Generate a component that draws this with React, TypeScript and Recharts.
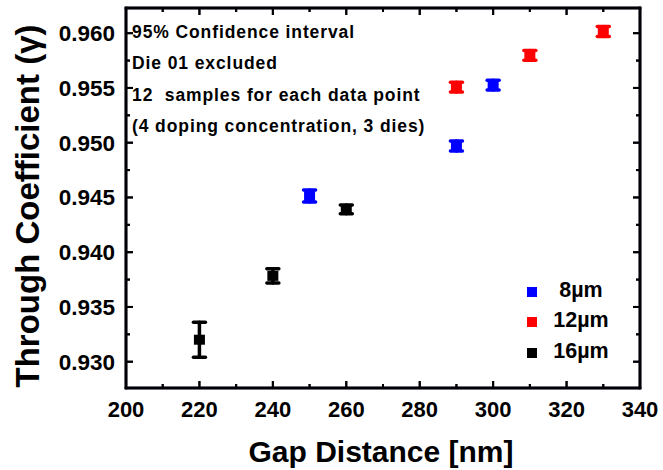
import React from 'react';
import { ComposedChart, Scatter, XAxis, YAxis, ErrorBar, Legend } from 'recharts';

// gap distance [nm] / through coefficient / 95% CI half-width, per ring width
const gap8 = [250, 290, 300];
const coef8 = [0.94514, 0.9497, 0.95526];
const err8 = [0.00055, 0.00045, 0.00045];

const gap12 = [290, 310, 330];
const coef12 = [0.95508, 0.95797, 0.96015];
const err12 = [0.00045, 0.00045, 0.00045];

const gap16 = [220, 240, 260];
const coef16 = [0.93201, 0.93784, 0.94391];
const err16 = [0.0016, 0.00065, 0.0004];

// labelled ticks plus the unlabelled minor ticks in between
const xTicks = [200, 210, 220, 230, 240, 250, 260, 270, 280, 290, 300, 310, 320, 330, 340];
const xLabelled = [200, 220, 240, 260, 280, 300, 320, 340];
const yTicks = [0.93, 0.9325, 0.935, 0.9375, 0.94, 0.9425, 0.945, 0.9475, 0.95, 0.9525, 0.955, 0.9575, 0.96];
const yLabelled = [0.93, 0.935, 0.94, 0.945, 0.95, 0.955, 0.96];

const notes = [
  '95% Confidence interval',
  'Die 01 excluded',
  '12  samples for each data point',
  '(4 doping concentration, 3 dies)',
];

const FONT = '"Liberation Sans", Arial, Helvetica, sans-serif';
// box and tick ink: a very dark navy underneath, plain black on top
const INKS = ['#0c0c30', '#000000'];

const series = [
  { name: '8\u00b5m', color: '#0000ff', gap: gap8, coef: coef8, err: err8 },
  { name: '12\u00b5m', color: '#ff0000', gap: gap12, coef: coef12, err: err12 },
  { name: '16\u00b5m', color: '#000000', gap: gap16, coef: coef16, err: err16 },
].map((s) => ({
  ...s,
  data: s.gap.map((g, i) => ({ gap: g, coef: s.coef[i], err: s.err[i] })),
}));

const W = 663;
const H = 470;
const MARGIN = { top: 8, right: 23, left: 0, bottom: 0 };
const PLOT_TOP = MARGIN.top;
const PLOT_RIGHT = W - MARGIN.right;
const X_MARGIN = 13;
const Y_MARGIN = 11;
const FRAME = 2.5;
const MAJOR = 7;
const MINOR = 4;

const xDomain = [200, 340];
const yDomain = [0.9276, 0.9623];
const frameLine = { stroke: INKS[0], strokeWidth: FRAME };

const Square = (props: any) => {
  const { cx, cy, fill } = props;
  return <rect x={cx - 5.5} y={cy - 5} width={11} height={10} fill={fill} />;
};

const Bar2 = (p: { x: number; y: number; w: number; h: number }) => (
  <>
    {INKS.map((c) => (
      <rect key={c} x={p.x} y={p.y} width={p.w} height={p.h} fill={c} />
    ))}
  </>
);

// bottom axis tick: label plus inward tick marks at the bottom and top of the box;
// the first tick also outlines the box
const BottomTick = (props: any) => {
  const { x, y, payload, index } = props;
  const v = payload.value;
  const labelled = xLabelled.includes(v);
  const len = labelled ? MAJOR : MINOR;
  const axisY = y - X_MARGIN;
  const boxW = PLOT_RIGHT - x;
  const boxH = axisY - PLOT_TOP;
  return (
    <g>
      {index === 0 && (
        <g>
          <Bar2 x={x - FRAME / 2} y={PLOT_TOP - FRAME / 2} w={boxW + FRAME} h={FRAME} />
          <Bar2 x={x - FRAME / 2} y={axisY - FRAME / 2} w={boxW + FRAME} h={FRAME} />
          <Bar2 x={x - FRAME / 2} y={PLOT_TOP - FRAME / 2} w={FRAME} h={boxH + FRAME} />
          <Bar2 x={PLOT_RIGHT - FRAME / 2} y={PLOT_TOP - FRAME / 2} w={FRAME} h={boxH + FRAME} />
        </g>
      )}
      <Bar2 x={x - 1} y={axisY - len} w={2} h={len} />
      <Bar2 x={x - 1} y={PLOT_TOP} w={2} h={len} />
      {labelled && (
        <text x={x} y={y} dy="0.71em" textAnchor="middle" fill="#000" fontSize={22} fontWeight="bold" fontFamily={FONT}>
          {v}
        </text>
      )}
    </g>
  );
};

// left axis tick: label plus inward tick marks at the left and right of the box
const LeftTick = (props: any) => {
  const { x, y, payload } = props;
  const v = payload.value;
  const labelled = yLabelled.some((t) => Math.abs(t - v) < 1e-9);
  const len = labelled ? MAJOR : MINOR;
  return (
    <g>
      <Bar2 x={x + Y_MARGIN} y={y - 1} w={len} h={2} />
      <Bar2 x={PLOT_RIGHT - len} y={y - 1} w={len} h={2} />
      {labelled && (
        <text x={x} y={y} dy="0.355em" textAnchor="end" fill="#000" fontSize={22.5} fontWeight="bold" fontFamily={FONT}>
          {v.toFixed(3)}
        </text>
      )}
    </g>
  );
};

const XTitle = (props: any) => {
  const { viewBox } = props;
  return (
    <text x={viewBox.x + viewBox.width / 2 - 2} y={viewBox.y + 74} textAnchor="middle" fill="#000"
      fontSize={30} fontWeight="bold" fontFamily={FONT}>
      Gap Distance [nm]
    </text>
  );
};

// y title plus the notes block in the top left corner of the plot
const YTitle = (props: any) => {
  const { viewBox } = props;
  const cx = viewBox.x + 39;
  const cy = viewBox.y + viewBox.height / 2 + 8;
  return (
    <g fill="#000" fontWeight="bold" fontFamily={FONT}>
      <text transform={`translate(${cx},${cy}) rotate(-90)`} textAnchor="middle" fontSize={33}>
        Through Coefficient (γ)
      </text>
      {notes.map((t, i) => (
        <text key={t} x={viewBox.x + viewBox.width + 6} y={viewBox.y + 30 + i * 31.3} fontSize={17.5}
          letterSpacing={0.9} style={{ whiteSpace: 'pre' }}>
          {t}
        </text>
      ))}
    </g>
  );
};

const LegendBox = () => (
  <div style={{ position: 'relative', width: 110, height: 95, fontFamily: FONT, fontWeight: 'bold' }}>
    {series.map((s, i) => (
      <React.Fragment key={s.name}>
        <div style={{ position: 'absolute', left: 7, top: 6.5 + i * 30.5, width: 10, height: 10, background: s.color }} />
        <div style={{ position: 'absolute', left: 21, width: 80, top: -1.5 + i * 30.5, textAlign: 'center',
          fontSize: 21.5, lineHeight: '22px', color: '#000', whiteSpace: 'nowrap' }}>
          {s.name}
        </div>
      </React.Fragment>
    ))}
  </div>
);

export default function App() {
  return (
    <div style={{ position: 'absolute', left: 0, top: 0, width: W, height: H, background: '#fff' }}>
      <ComposedChart width={W} height={H} margin={MARGIN}>
        <XAxis
          xAxisId="b"
          type="number"
          dataKey="gap"
          domain={xDomain}
          allowDataOverflow
          ticks={xTicks}
          interval={0}
          height={82}
          tickLine={false}
          tickSize={0}
          tickMargin={X_MARGIN}
          axisLine={frameLine}
          tick={<BottomTick />}
          label={<XTitle />}
        />
        <XAxis xAxisId="t" orientation="top" type="number" domain={xDomain} allowDataOverflow ticks={xLabelled}
          interval={0} mirror height={1} tick={false} tickLine={false} axisLine={frameLine} />
        <YAxis
          yAxisId="l"
          type="number"
          dataKey="coef"
          domain={yDomain}
          allowDataOverflow
          ticks={yTicks}
          interval={0}
          width={126}
          tickLine={false}
          tickSize={0}
          tickMargin={Y_MARGIN}
          axisLine={frameLine}
          tick={<LeftTick />}
          label={<YTitle />}
        />
        <YAxis yAxisId="r" orientation="right" type="number" domain={yDomain} allowDataOverflow ticks={yLabelled}
          interval={0} mirror width={1} tick={false} tickLine={false} axisLine={frameLine} />
        <Legend
          layout="vertical"
          align="center"
          verticalAlign="middle"
          wrapperStyle={{ left: 520, top: 280, width: 110, height: 95 }}
          content={<LegendBox />}
        />

        {series.map((s) => (
          <Scatter
            key={s.name}
            name={s.name}
            xAxisId="b"
            yAxisId="l"
            data={s.data}
            dataKey="coef"
            fill={s.color}
            shape={Square}
            isAnimationActive={false}
          >
            <ErrorBar
              dataKey="err"
              direction="y"
              width={6}
              stroke={s.color}
              strokeWidth={3.5}
              strokeLinecap="round"
              isAnimationActive={false}
            />
          </Scatter>
        ))}
      </ComposedChart>
    </div>
  );
}
